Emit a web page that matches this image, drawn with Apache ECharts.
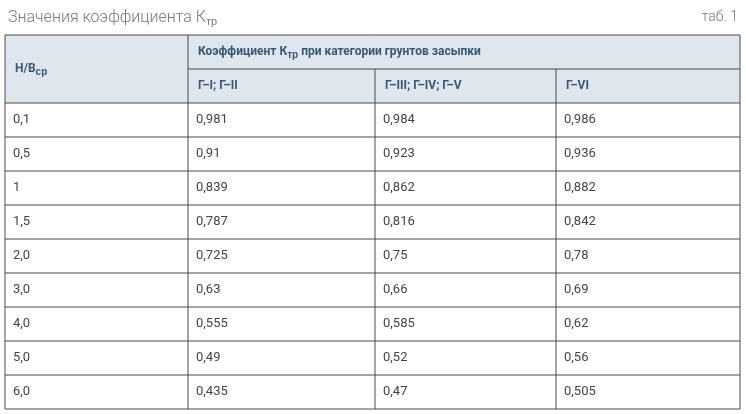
<!DOCTYPE html><html><head><meta charset="utf-8"><script src="https://cdn.jsdelivr.net/npm/echarts@6/dist/echarts.min.js"></script>
<style>html,body{margin:0;padding:0;background:#fff}#c{width:746px;height:414px}</style></head><body><div id="c"></div><script>
const rowLabels=['0,1','0,5','1','1,5','2,0','3,0','4,0','5,0','6,0'];
const colLabels=['Г–I; Г–II','Г–III; Г–IV; Г–V','Г–VI'];
const colA=['0,981','0,91','0,839','0,787','0,725','0,63','0,555','0,49','0,435'];
const colB=['0,984','0,923','0,862','0,816','0,75','0,66','0,585','0,52','0,47'];
const colC=['0,986','0,936','0,882','0,842','0,78','0,69','0,62','0,56','0,505'];
const cols=[colA,colB,colC];
(function(){
const xs=[5,188,375,556,740], tY=35, h1=69, hb=103, rh=34;
const F='Roboto, "Noto Sans", sans-serif';
const line='#4a4a4a', hdr='#3b5873', hbg='#dfe6ee', txt='#444';
const g=[];
g.push({type:'rect',shape:{x:xs[0],y:tY,width:xs[4]-xs[0],height:hb-tY},style:{fill:hbg}});
g.push({type:'text',x:8,y:18,style:{text:'Значения коэффициента К{s|тр}',rich:{s:{fontSize:11,verticalAlign:'bottom',padding:[8,0,0,0],fill:'#777',fontWeight:300}},font:'300 16px '+F,fill:'#777',verticalAlign:'middle'}});
g.push({type:'text',x:738,y:17,style:{text:'таб. 1',font:'300 14px '+F,fill:'#777',align:'right',verticalAlign:'middle'}});
g.push({type:'text',x:15,y:69,style:{text:'H/B{s|ср}',rich:{s:{fontSize:10,fontWeight:'bold',fill:hdr,padding:[7,0,0,0]}},font:'bold 12px '+F,fill:hdr,verticalAlign:'middle'}});
g.push({type:'text',x:xs[1]+10,y:52,style:{text:'Коэффициент К{s|тр} при категории грунтов засыпки',rich:{s:{fontSize:10,fontWeight:'bold',fill:hdr,padding:[7,0,0,0]}},font:'bold 12px '+F,fill:hdr,verticalAlign:'middle'}});
colLabels.forEach((c,i)=>g.push({type:'text',x:xs[i+1]+10,y:86,style:{text:c,font:'bold 12px '+F,fill:hdr,verticalAlign:'middle'}}));
rowLabels.forEach((r,j)=>{const y=hb+rh*j+rh/2;
 g.push({type:'text',x:xs[0]+8,y:y,style:{text:r,font:'13px '+F,fill:txt,verticalAlign:'middle'}});
 cols.forEach((c,i)=>g.push({type:'text',x:xs[i+1]+8,y:y,style:{text:c[j],font:'13px '+F,fill:txt,verticalAlign:'middle'}}));
});
const L=(x1,y1,x2,y2)=>g.push({type:'line',shape:{x1,y1,x2,y2},style:{stroke:line,lineWidth:1}});
L(xs[0],tY,xs[4],tY);L(xs[1],h1,xs[4],h1);
for(let j=0;j<=rowLabels.length;j++)L(xs[0],hb+rh*j,xs[4],hb+rh*j);
L(xs[0],tY,xs[0],hb+rh*9);L(xs[4],tY,xs[4],hb+rh*9);L(xs[1],tY,xs[1],hb+rh*9);
L(xs[2],h1,xs[2],hb+rh*9);L(xs[3],h1,xs[3],hb+rh*9);
const ch=echarts.init(document.getElementById('c'));
ch.setOption({animation:false,graphic:g});
})();
</script></body></html>
